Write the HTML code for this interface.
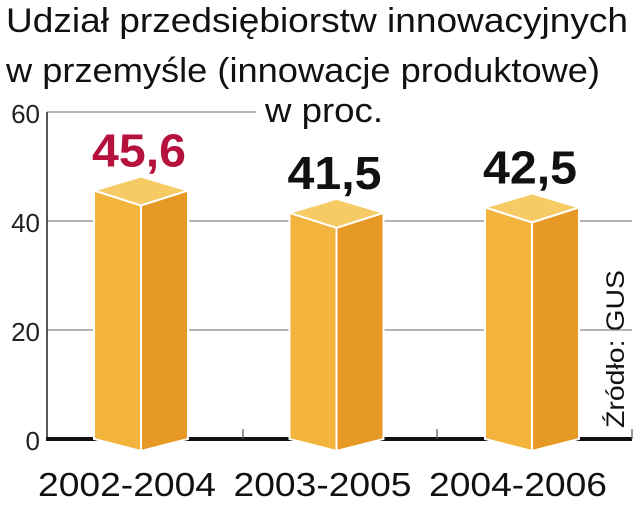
<!DOCTYPE html>
<html><head><meta charset="utf-8"><style>
body{margin:0;background:#fff;width:640px;height:507px;overflow:hidden}
svg{display:block}
text{font-family:"Liberation Sans",sans-serif}
</style></head><body>
<svg id="chart" width="640" height="507">
<text x="6" y="32" font-size="34" fill="#111" textLength="622" lengthAdjust="spacingAndGlyphs">Udział przedsiębiorstw innowacyjnych</text>
<text x="6" y="82" font-size="34" fill="#111" textLength="594" lengthAdjust="spacingAndGlyphs">w przemyśle (innowacje produktowe)</text>
<text x="265" y="122" font-size="34" fill="#111" textLength="118" lengthAdjust="spacingAndGlyphs">w proc.</text>
<text transform="translate(624,428) rotate(-90)" font-size="25" fill="#111" textLength="158" lengthAdjust="spacingAndGlyphs">Źródło: GUS</text>
<g id="grid"></g><g id="bars"></g>
</svg>
<script>
const categories=["2002-2004","2003-2005","2004-2006"];
const values=[45.6,41.5,42.5];
const valueLabels=["45,6","41,5","42,5"];
const highlight=[true,false,false];
const yTicks=[0,20,40,60];
const NS="http://www.w3.org/2000/svg";
const y0=439,yTop=112,yMax=60;
const y=v=>y0-(v/yMax)*(y0-yTop);
const x=i=>141+i*195.5;
function mk(t,a,p){const e=document.createElementNS(NS,t);for(const k in a)e.setAttribute(k,a[k]);p.appendChild(e);return e;}
const grid=document.getElementById('grid'),bars=document.getElementById('bars');
yTicks.forEach(t=>{
  if(t>0){const l=mk('line',{x1:47,x2:632,y1:y(t),y2:y(t),stroke:'#888','stroke-width':1.2},grid);
  
  if(t===60){l.setAttribute('x2',256);}}
  const tx=mk('text',{x:40,y:y(t)+11,'font-size':26,'text-anchor':'end',fill:'#222'},grid);tx.textContent=t;
  
  
});
const ax=mk('line',{x1:47,x2:47,y1:yTop,y2:y0,stroke:'#222','stroke-width':1.5},grid);


const bl=mk('line',{x1:46,x2:632,y1:y0,y2:y0,stroke:'#111','stroke-width':4},grid);


[243,437,632].forEach(px=>{mk('line',{x1:px,x2:px,y1:y0-10,y2:y0,stroke:'#555','stroke-width':1.2},grid);});
values.forEach((v,i)=>{
  const c=x(i),w=47,t=y(v),g=mk('g',{},bars);
  
  
  mk('polygon',{points:`${c-w},${t} ${c},${t+15} ${c},${y0+12} ${c-w},${y0}`,fill:'#f2b43c',stroke:'#fff','stroke-width':2},g);
  mk('polygon',{points:`${c},${t+15} ${c+w},${t} ${c+w},${y0} ${c},${y0+12}`,fill:'#e69a25',stroke:'#fff','stroke-width':2},g);
  mk('polygon',{points:`${c-w},${t} ${c},${t-14} ${c+w},${t} ${c},${t+15}`,fill:'#f6cb66',stroke:'#fff','stroke-width':2},g);
  const lb=mk('text',{x:c-2,y:t-24,'font-size':46,'font-weight':'bold','text-anchor':'middle',fill:highlight[i]?'#b5123e':'#111',textLength:94,lengthAdjust:'spacingAndGlyphs'},bars);
  lb.textContent=valueLabels[i];
  
  
  const cl=mk('text',{x:c-14,y:496,'font-size':33,'text-anchor':'middle',fill:'#111',textLength:178,lengthAdjust:'spacingAndGlyphs'},bars);
  cl.textContent=categories[i];
  
  
});
</script>
</body></html>
